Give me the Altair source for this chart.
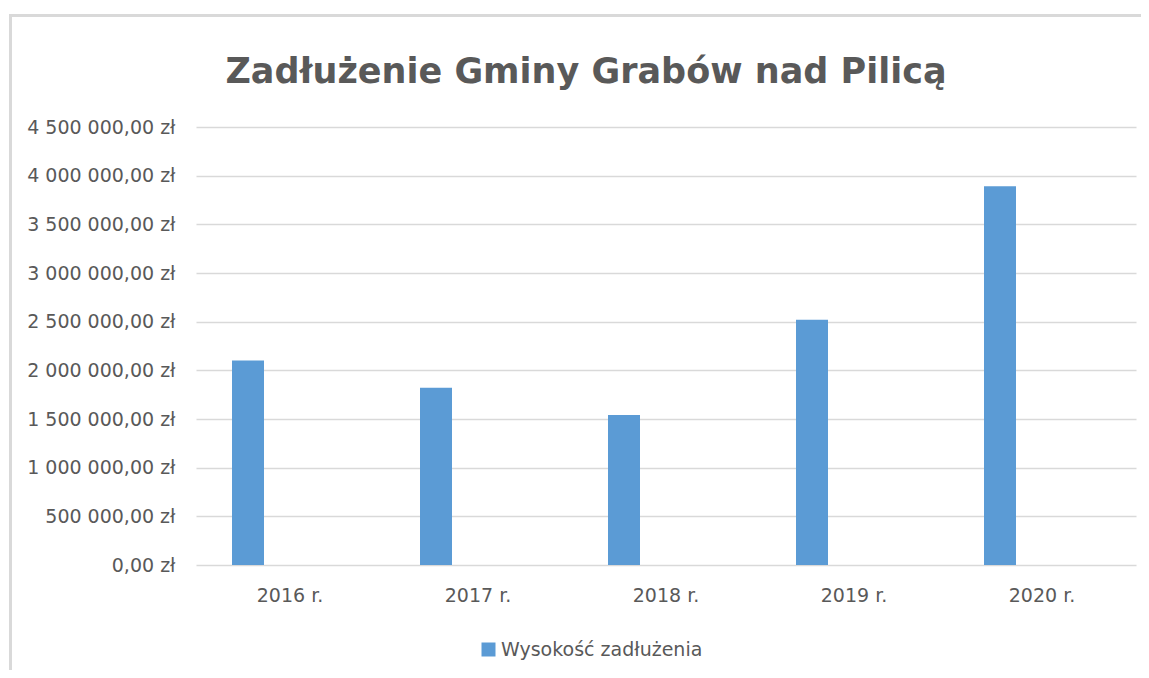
import altair as alt
import pandas as pd

# ---- data ----
years = ["2016 r.", "2017 r.", "2018 r.", "2019 r.", "2020 r."]
debt = [2100000, 1820000, 1540000, 2520000, 3890000]
series_name = "Wysokość zadłużenia"
y_ticks = [0, 500000, 1000000, 1500000, 2000000, 2500000, 3000000, 3500000, 4000000, 4500000]
title_text = "Zadłużenie Gminy Grabów nad Pilicą"

df = pd.DataFrame({"rok": years, "zadluzenie": debt, "seria": [series_name] * len(years)})

FONT = "DejaVu Sans"
TXT = "#595959"
GRID = "#d9d9d9"
BAR = "#5b9bd5"

label_expr = (
    "replace(replace(format(datum.value, ',.2f'), regexp(',', 'g'), ' '), '.', ',') + ' zł'"
)

bars = alt.Chart(df).mark_bar(width=32, xOffset=-42).encode(
    x=alt.X(
        "rok:N",
        sort=years,
        scale=alt.Scale(paddingInner=0, paddingOuter=0),
        axis=alt.Axis(
            title=None, domain=False, ticks=False, labelAngle=0,
            labelFont=FONT, labelFontSize=19, labelColor=TXT, labelPadding=21,
        ),
    ),
    y=alt.Y(
        "zadluzenie:Q",
        scale=alt.Scale(domain=[0, 4500000], nice=False),
        axis=alt.Axis(
            title=None, domain=False, ticks=False, values=y_ticks,
            labelExpr=label_expr, labelFont=FONT, labelFontSize=19,
            labelColor=TXT, labelPadding=21,
            grid=True, gridColor=GRID, gridWidth=1.3,
        ),
    ),
    color=alt.Color(
        "seria:N",
        scale=alt.Scale(domain=[series_name], range=[BAR]),
        legend=alt.Legend(
            title=None, orient="none", legendX=283, legendY=513,
            direction="horizontal", symbolType="square", symbolSize=196,
            symbolStrokeWidth=0, labelFont=FONT, labelFontSize=19,
            labelColor=TXT, labelOffset=3, padding=0, labelLimit=0,
        ),
    ),
)

# chart-area border (top and left edges visible in the reference)
border_top = alt.Chart(df).mark_rule(color=GRID, strokeWidth=3).encode(
    x=alt.value(-187), x2=alt.value(960), y=alt.value(-111.5)
)
border_left = alt.Chart(df).mark_rule(color=GRID, strokeWidth=3).encode(
    x=alt.value(-185.5), y=alt.value(-113), y2=alt.value(560)
)

chart = alt.layer(border_top, border_left, bars).properties(
    width=940,
    height=438,
    background="white",
    title=alt.TitleParams(
        text=title_text, font=FONT, fontSize=35, fontWeight="bold",
        color=TXT, anchor="middle", frame="group", dx=-80, offset=-77,
    ),
    autosize=alt.AutoSizeParams(type="none"),
    padding={"left": 188, "top": 119, "right": 5, "bottom": 105},
).configure_view(strokeWidth=0, stroke=None)

chart.save("out.html", embed_options={"renderer": "svg", "actions": False})
